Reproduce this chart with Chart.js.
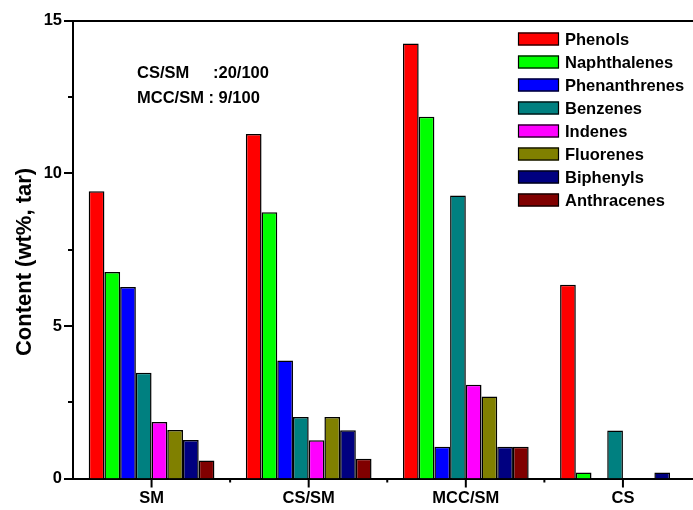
<!DOCTYPE html>
<html>
<head>
<meta charset="utf-8">
<script src="https://cdn.jsdelivr.net/npm/chart.js@4.4.1/dist/chart.umd.min.js"></script>
<style>
  html, body { margin: 0; padding: 0; background: #fff; overflow: hidden; }
  #wrap { width: 710px; height: 510px; }
</style>
</head>
<body>
<div id="wrap"><canvas id="tarchart"></canvas></div>
<script>
const categories = ['SM', 'CS/SM', 'MCC/SM', 'CS'];
const seriesNames = ['Phenols', 'Naphthalenes', 'Phenanthrenes', 'Benzenes', 'Indenes', 'Fluorenes', 'Biphenyls', 'Anthracenes'];
const seriesColors = ['#ff0000', '#00ff00', '#0000ff', '#008080', '#ff00ff', '#808000', '#000080', '#800000'];

const phenols = [9.42, 11.29, 14.26, 6.35];
const naphthalenes = [6.77, 8.73, 11.86, 0.2];
const phenanthrenes = [6.28, 3.87, 1.04, 0];
const benzenes = [3.47, 2.02, 9.28, 1.57];
const indenes = [1.85, 1.25, 3.07, 0];
const fluorenes = [1.59, 2.02, 2.69, 0];
const biphenyls = [1.26, 1.58, 1.04, 0.2];
const anthracenes = [0.59, 0.65, 1.04, 0];

const yMajorTicks = [0, 5, 10, 15];
const yMinorTicks = [2.5, 7.5, 12.5];

const allSeries = [phenols, naphthalenes, phenanthrenes, benzenes, indenes, fluorenes, biphenyls, anthracenes];
const FONT = '"Liberation Sans", Arial, sans-serif';

// frame, ticks, legend and notes, Origin style
const decorations = {
  id: 'decorations',
  afterDraw(chart) {
    const c = chart.ctx;
    const a = chart.chartArea;
    const xs = chart.scales.x;
    const ys = chart.scales.y;
    c.save();
    c.strokeStyle = '#000';
    c.lineWidth = 2;
    c.beginPath();
    c.moveTo(a.left - 1, a.top);
    c.lineTo(a.right, a.top);
    c.lineTo(a.right, a.bottom);
    c.stroke();

    // y ticks
    yMajorTicks.forEach(v => {
      const y = Math.round(ys.getPixelForValue(v));
      c.beginPath(); c.moveTo(a.left - 9, y); c.lineTo(a.left, y); c.stroke();
    });
    yMinorTicks.forEach(v => {
      const y = Math.round(ys.getPixelForValue(v));
      c.beginPath(); c.moveTo(a.left - 5, y); c.lineTo(a.left, y); c.stroke();
    });
    // x ticks
    categories.forEach((cat, i) => {
      const x = xs.getPixelForValue(i);
      c.beginPath(); c.moveTo(x, a.bottom); c.lineTo(x, a.bottom + 9); c.stroke();
      if (i > 0) {
        const xm = (x + xs.getPixelForValue(i - 1)) / 2;
        c.beginPath(); c.moveTo(xm, a.bottom); c.lineTo(xm, a.bottom + 4); c.stroke();
      }
    });

    // legend
    c.font = 'bold 16.5px ' + FONT;
    c.textBaseline = 'middle';
    c.textAlign = 'left';
    c.lineWidth = 1.2;
    seriesNames.forEach((name, i) => {
      const cy = 39 + i * 23;
      c.fillStyle = seriesColors[i];
      c.fillRect(518, cy - 6.5, 41, 13);
      c.strokeStyle = '#000';
      c.strokeRect(518.5, cy - 6, 40, 12);
      c.fillStyle = '#000';
      c.fillText(name, 565, cy + 1);
    });

    // ratio notes
    c.fillText('CS/SM', 137, 73);
    c.fillText(':20/100', 213, 73);
    c.fillText('MCC/SM : 9/100', 137, 98);

    // y title
    c.font = 'bold 22px ' + FONT;
    c.translate(25, 262);
    c.rotate(-Math.PI / 2);
    c.textAlign = 'center';
    c.fillText('Content (wt%, tar)', 0, 0);
    c.restore();
  }
};

new Chart(document.getElementById('tarchart'), {
  type: 'bar',
  data: {
    labels: categories,
    datasets: allSeries.map((vals, i) => ({
      label: seriesNames[i],
      data: vals,
      backgroundColor: seriesColors[i],
      borderColor: '#000',
      borderWidth: ctx => (ctx.raw === 0 ? 0 : 1.5),
      borderSkipped: 'start',
      categoryPercentage: 0.8,
      barPercentage: 1.0
    }))
  },
  options: {
    responsive: true,
    maintainAspectRatio: false,
    animation: false,
    layout: { padding: { top: 19, right: 8.5, left: 0, bottom: 0 } },
    plugins: { legend: { display: false }, tooltip: { enabled: false } },
    scales: {
      x: {
        grid: { display: false, drawTicks: false },
        border: { display: true, color: '#000', width: 2 },
        ticks: { color: '#000', padding: 10, font: { family: FONT, size: 16.5, weight: 'bold' } },
        afterFit: s => { s.height = 31.5; }
      },
      y: {
        min: 0,
        max: 15,
        grid: { display: false, drawTicks: false },
        border: { display: true, color: '#000', width: 2 },
        ticks: { stepSize: 5, color: '#000', padding: 11, font: { family: FONT, size: 16.5, weight: 'bold' } },
        afterFit: s => { s.width = 73; }
      }
    }
  },
  plugins: [decorations]
});
</script>
</body>
</html>
